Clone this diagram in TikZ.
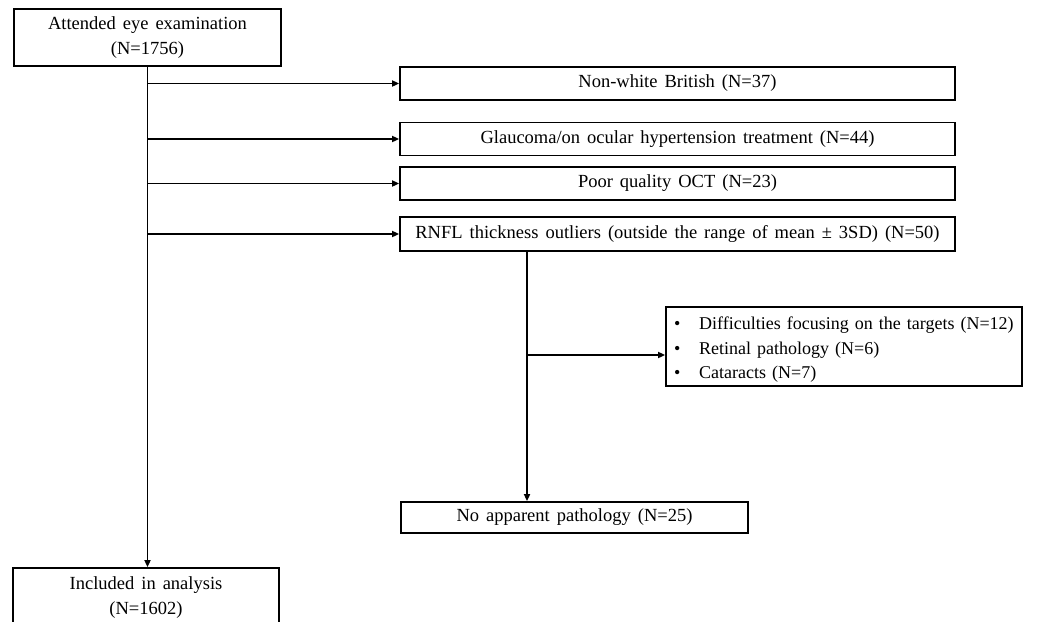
\documentclass[tikz,border=0pt]{standalone}
\usepackage{fontspec}
\setmainfont{Liberation Serif}
\usetikzlibrary{arrows.meta}
\newcommand\boxfont{\fontsize{18.5}{25}\selectfont\spaceskip 7pt\relax}
\newcommand\bulfont{\fontsize{18}{24.5}\selectfont}
\begin{document}
\begin{tikzpicture}[x=1pt,y=-1pt,
  box/.style={draw,line width=1.8pt,inner sep=0pt,align=center,font=\boxfont},
  arr/.style={line width=1.8pt,-{Triangle[length=7pt,width=6pt]}}]
\useasboundingbox (0,0) rectangle (1059,621);
\clip (0,0) rectangle (1059,621);
\fill[white] (0,0) rectangle (1059,621);
\node[box,minimum width=267pt,minimum height=57pt] (top) at (147.5,37.5) {Attended eye examination\\(N=1756)};
\node[box,minimum width=555pt,minimum height=33pt] (b1) at (677.5,83.5) {Non-white British (N=37)};
\node[box,minimum width=555pt,minimum height=33pt] (b2) at (677.5,139) {Glaucoma/on ocular hypertension treatment (N=44)};
\node[box,minimum width=555pt,minimum height=33pt] (b3) at (677.5,183.5) {Poor quality OCT (N=23)};
\node[box,minimum width=555pt,minimum height=34pt] (b4) at (677.5,234) {RNFL thickness outliers (outside the range of mean ± 3SD) (N=50)};
\node[box,minimum width=356pt,minimum height=79pt] (bul) at (844,346.5) {};
\node[font=\bulfont,text width=340pt,inner sep=0pt,align=left,anchor=west] (bult) at (674,350)
  {\makebox[25pt][l]{•}Difficulties focusing on the targets (N=12)\\
   \makebox[25pt][l]{•}Retinal pathology (N=6)\\
   \makebox[25pt][l]{•}Cataracts (N=7)};
\node[box,minimum width=347pt,minimum height=31pt] (nap) at (574.5,517.5) {No apparent pathology (N=25)};
\node[box,minimum width=266pt,minimum height=59pt] (inc) at (146,597.5) {Included in analysis\\(N=1602)};
\coordinate (vx) at (527,0);
\coordinate (split) at (527,355);
\draw[arr] (top.south) -- (top.south |- inc.north);
\draw[arr] (top.south |- b1.west) -- (b1.west);
\draw[arr] (top.south |- b2.west) -- (b2.west);
\draw[arr] (top.south |- b3.west) -- (b3.west);
\draw[arr] (top.south |- b4.west) -- (b4.west);
\draw[arr] (b4.south -| vx) -- (nap.north -| vx);
\draw[arr] (split) -- (split -| bul.west);
\end{tikzpicture}
\end{document}
